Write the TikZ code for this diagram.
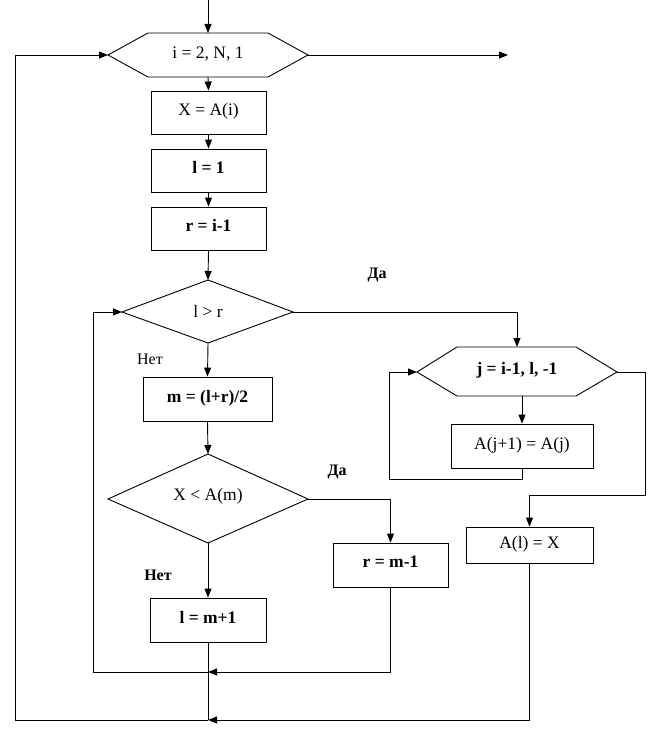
\documentclass[tikz,border=0pt]{standalone}
\usepackage{fontspec}
\setmainfont{Liberation Serif}
\usetikzlibrary{arrows.meta,calc}
\begin{document}
\begin{tikzpicture}[x=1pt,y=-1pt,line width=0.9pt,
  txt/.style={inner sep=0pt,font=\fontsize{17.5}{20}\selectfont},
  btxt/.style={txt,font=\fontsize{17.5}{20}\selectfont\bfseries},
  lbl/.style={inner sep=0pt,font=\fontsize{16}{19}\selectfont},
  blbl/.style={lbl,font=\fontsize{16}{19}\selectfont\bfseries},
  shp/.style={draw,line width=0.9pt},
  bx/.style={shp,inner sep=0pt,text depth=6pt},
  arr/.style={-{Triangle[length=9pt,width=7pt]}},
  flow/.style={draw,line width=0.9pt}]
\useasboundingbox (0,0) rectangle (655,733);
\fill[white] (0,0) rectangle (655,733);

% ---- hexagon 1 ----
\coordinate (h1l) at (108,55); \coordinate (h1r) at (308,55);
\coordinate (h1t) at (208,33); \coordinate (h1b) at (208,77);
\draw[shp] (108,55) -- (148,33) -- (268,33) -- (308,55) -- (268,77) -- (148,77) -- cycle;
\node[txt] (hex1) at (208,54) {i = 2, N, 1};

% ---- boxes ----
\node[bx,txt,minimum width=115pt,minimum height=43pt] (xa) at (208.5,112.5) {X = A(i)};
\node[bx,btxt,minimum width=115pt,minimum height=43pt] (l1) at (208.5,170.5) {l = 1};
\node[bx,btxt,minimum width=115pt,minimum height=43pt] (ri) at (208.5,228.5) {r = i-1};

% ---- diamond 1 ----
\coordinate (d1t) at (208,280); \coordinate (d1l) at (122,312);
\coordinate (d1r) at (293,312); \coordinate (d1b) at (208,343);
\draw[shp] (d1t) -- (d1r) -- (d1b) -- (d1l) -- cycle;
\node[txt] (dia1) at (208,311) {l > r};

\node[bx,btxt,minimum width=129pt,minimum height=44pt] (mm) at (207.5,399) {m = (l+r)/2};

% ---- diamond 2 ----
\coordinate (d2t) at (208,454); \coordinate (d2l) at (108,499);
\coordinate (d2r) at (308,499); \coordinate (d2b) at (208,543);
\draw[shp] (d2t) -- (d2r) -- (d2b) -- (d2l) -- cycle;
\node[txt] (dia2) at (208,496) {X < A(m)};

\node[bx,btxt,minimum width=115pt,minimum height=44pt] (rm) at (390.5,565) {r = m-1};
\node[bx,btxt,minimum width=116pt,minimum height=44pt] (lm) at (208,620) {l = m+1};

% ---- hexagon 2 ----
\coordinate (h2l) at (417,372); \coordinate (h2r) at (617,372);
\coordinate (h2t) at (517,347); \coordinate (h2b) at (517,396);
\draw[shp] (417,372) -- (457,347) -- (576,347) -- (617,372) -- (576,396) -- (457,396) -- cycle;
\node[btxt] (hex2) at (517,370) {j = i-1, l, -1};

\node[bx,txt,minimum width=142pt,minimum height=44pt] (aj) at (522,446) {A(j+1) = A(j)};
\node[bx,txt,minimum width=127pt,minimum height=36pt] (al) at (529.5,545) {A(l) = X};

% ---- labels ----
\node[blbl] (da1) at (377,275) {Да};
\node[blbl] (da2) at (337,472) {Да};
\node[lbl] (net1) at (150,359) {Нет};
\node[blbl] (net2) at (158,575) {Нет};

% ---- free-end coordinates ----
\coordinate (top) at (208,0);
\coordinate (exit) at (508,55);
\coordinate (j1) at (208,672);
\coordinate (j2) at (208,720);

% ---- connectors ----
\draw[flow,arr] (top) -- (h1t);
\draw[flow,arr] (h1r) -- (exit);
\draw[flow,arr] (h1b) -- (xa.north);
\draw[flow,arr] (xa.south) -- (l1.north);
\draw[flow,arr] (l1.south) -- (ri.north);
\draw[flow,arr] (ri.south) -- (d1t);
\draw[flow,arr] (d1r) -- (h2t |- d1r) -- (h2t);
\draw[flow,arr] (aj.north |- h2b) -- (aj.north);
\draw[flow,arr] (aj.south) -- ++(0,11) -| (389,372) -- (h2l);
\draw[flow,arr] (h2r) -- (645,372) -- (645,495) -| (al.north);
\draw[flow,arr] (al.south) -- (al.south |- j2) -- (j2);
\draw[flow,arr] (d1b) -- (mm.north);
\draw[flow,arr] (mm.south) -- (d2t);
\draw[flow,arr] (d2r) -| (rm.north);
\draw[flow,arr] (d2b) -- (lm.north);
\draw[flow] (lm.south) -- (j2);
\draw[flow,arr] (rm.south) -- (rm.south |- j1) -- (j1);
\draw[flow,arr] (j1) -- (93,672) -- (93,312) -- (d1l);
\draw[flow,arr] (j2) -- (15,720) -- (15,55) -- (h1l);
\end{tikzpicture}
\end{document}
